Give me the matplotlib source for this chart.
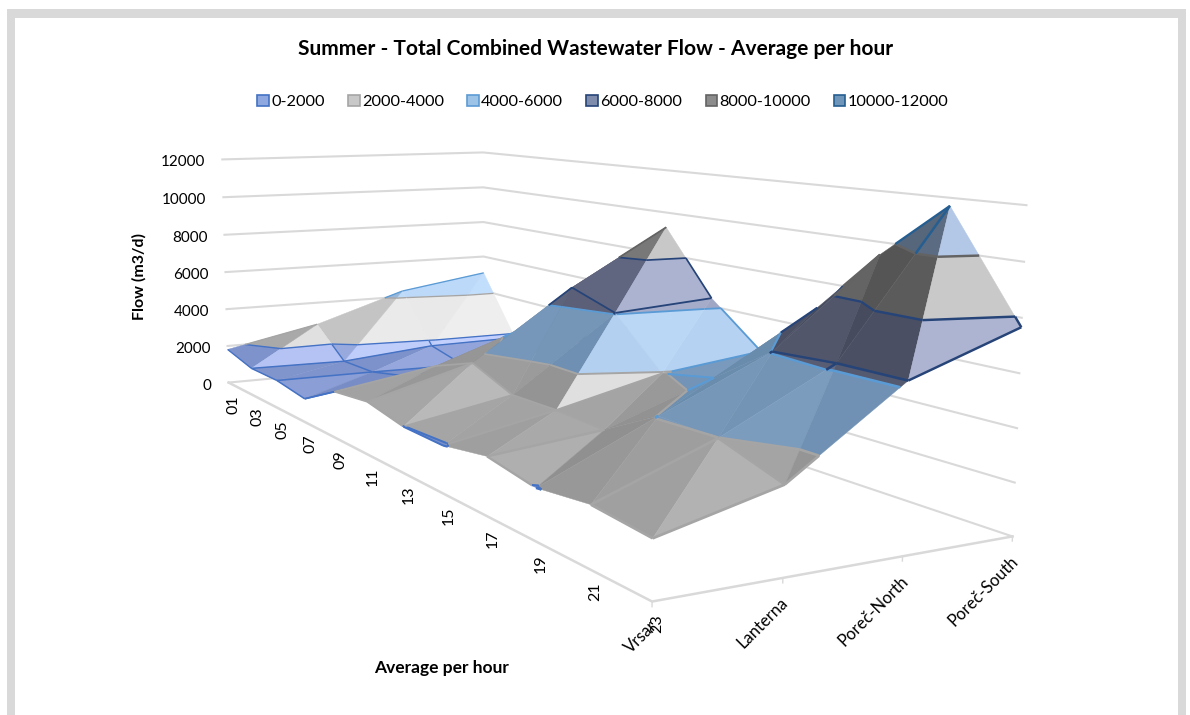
import numpy as np
import matplotlib
matplotlib.use("Agg")
import matplotlib.pyplot as plt
from matplotlib.patches import Patch, Rectangle
from mpl_toolkits.mplot3d import proj3d
from mpl_toolkits.mplot3d.art3d import Poly3DCollection, Line3DCollection

plt.rcParams['font.family'] = ['Lato', 'DejaVu Sans']

hours = ['01', '03', '05', '07', '09', '11', '13', '15', '17', '19', '21', '23']
locations = ['Vrsar', 'Lanterna', 'Poreč-North', 'Poreč-South']
vrsar = [1810, 1390, 1390, 1140, 2150, 2365, 1990, 1960, 2320, 1970, 2260, 2070]
lanterna = [2800, 1330, 1370, 1800, 2900, 3640, 2840, 2880, 2800, 4060, 3990, 3185]
porec_north = [4320, 1750, 1300, 2000, 4500, 6740, 6050, 3950, 4400, 6050, 6200, 6200]
porec_south = [5050, 1800, 1700, 2800, 6500, 9300, 6370, 4480, 6900, 9500, 11700, 7660]
z_ticks = [0, 2000, 4000, 6000, 8000, 10000, 12000]
band_names = ['0-2000', '2000-4000', '4000-6000', '6000-8000', '8000-10000', '10000-12000']
band_edges = ['#4472c4', '#a5a5a5', '#5b9bd5', '#264478', '#636363', '#255e91']
band_legend = ['#8fa8e0', '#c8c8c8', '#9dc3e6', '#7f8cab', '#8c8c8c', '#6f96b8']
band_base = ['#7f93cc', '#acacac', '#82a2c4', '#6d7390', '#8a8a8a', '#7f95b0']
band_light = ['#c5d2ff', '#f0f0f0', '#c4e0ff', '#aeb6d4', '#cbcbcb', '#b5c9e8']
band_dark = ['#6a80b8', '#878787', '#6587a8', '#454a5c', '#545454', '#55657a']

W, H = 1190, 715
fig = plt.figure(figsize=(W / 100, H / 100), dpi=100)
ax = fig.add_axes([20.1 / W, -120.8 / H, 1018.9 / W, 1018.9 / H], projection='3d', computed_zorder=False)
ax.set_xlim(0, 11)
ax.set_ylim(0, 3)
ax.set_zlim(0, 12000)
ax.view_init(8.347, -28.761)
ax.set_proj_type('persp', focal_length=0.3016)
ax.set_box_aspect((3.5381, 1.2852, 1))
ax.set_axis_off()
ax.patch.set_alpha(0)

grid_color = '#d9d9d9'
for z in z_ticks:
    ax.plot([0, 0, 11], [0, 3, 3], [z, z, z], color=grid_color, lw=1.5, zorder=1)
ax.plot([0, 11, 11], [0, 0, 3], [0, 0, 0], color=grid_color, lw=1.8, zorder=1)
for j in range(4):
    ax.plot([11, 11], [j, j], [0, -170], color=grid_color, lw=1, zorder=1)

values = np.array([vrsar, lanterna, porec_north, porec_south], float).T
levels = np.array(z_ticks, float)

def rgb(c):
    return np.array(matplotlib.colors.to_rgb(c))

def shade(b, u):
    t = np.tanh(u / 1500.0) if u > 0 else np.tanh(u / 2500.0)
    end = band_light[b] if t > 0 else band_dark[b]
    return tuple(rgb(band_base[b]) * (1 - abs(t)) + rgb(end) * abs(t))

def clip_band(poly, lo, hi):
    for lim, sign in ((lo, 1), (hi, -1)):
        out = []
        for a, b in zip(poly, poly[1:] + poly[:1]):
            da, db = sign * (a[2] - lim), sign * (b[2] - lim)
            if da >= 0:
                out.append(a)
            if da * db < 0:
                f = da / (da - db)
                out.append(tuple(a[k] + f * (b[k] - a[k]) for k in range(3)))
        poly = out
        if not poly:
            break
    return poly

def split_edge(a, b):
    segs = []
    for n in range(6):
        poly = clip_band([a, b], levels[n], levels[n + 1])
        if len(poly) >= 2:
            segs.append((n, [poly[0], poly[-1]]))
    return segs

def pt(i, j):
    return (float(i), float(j), values[i, j])

# far cells first, the near corner is hour 23 at Vrsar
zo = 2
for j in (2, 1, 0):
    for i in range(11):
        a, b, c, d = pt(i, j), pt(i + 1, j), pt(i + 1, j + 1), pt(i, j + 1)
        polys, cols, segs, seg_cols = [], [], [], []
        for tri, dzdx, dzdy in (([a, b, d], b[2] - a[2], d[2] - a[2]), ([b, c, d], c[2] - d[2], c[2] - b[2])):
            u = -dzdx - 0.6 * dzdy
            for n in range(6):
                poly = clip_band(list(tri), levels[n], levels[n + 1])
                if len(poly) >= 3:
                    polys.append(poly)
                    cols.append(shade(n, u))
            # band boundaries crossing this triangle
            for n in range(1, 6):
                lev = levels[n]
                hits = []
                for p1, p2 in zip(tri, tri[1:] + tri[:1]):
                    if (p1[2] - lev) * (p2[2] - lev) < 0:
                        f = (lev - p1[2]) / (p2[2] - p1[2])
                        hits.append(tuple(p1[k] + f * (p2[k] - p1[k]) for k in range(3)))
                if len(hits) == 2:
                    segs.append(hits)
                    seg_cols.append(band_edges[n - 1])
        edges = [(c, d), (d, a)]
        if j == 0:
            edges.append((a, b))
        if i == 10:
            edges.append((b, c))
        for e1, e2 in edges:
            for n, sg in split_edge(e1, e2):
                segs.append(sg)
                seg_cols.append(band_edges[n])
        # lines get thicker towards the viewer
        lw = 1.0 / (1 - 0.036 * i + 0.022 * j) ** 1.5
        ax.add_collection3d(Poly3DCollection(polys, facecolors=cols, edgecolors=cols, linewidths=0.3, zorder=zo), autolim=False)
        zo += 1
        ax.add_collection3d(Line3DCollection(segs, colors=seg_cols, linewidths=lw, zorder=zo), autolim=False)
        zo += 1

def label(x, y, z, text, dx, dy, **kw):
    px, py, _ = proj3d.proj_transform(x, y, z, ax.get_proj())
    ax.annotate(text, xy=(px, py), xycoords='data', xytext=(dx, dy), textcoords='offset pixels',
                zorder=500, annotation_clip=False, **kw)

for z in z_ticks:
    label(0, 0, z, str(z), -17, -3, ha='right', va='center', fontsize=11)
for i, lab in enumerate(hours):
    label(i, 0, 0, lab, 5, -22, rotation=90, ha='center', va='center', fontsize=11.5)
for j, lab in enumerate(locations):
    label(11, j, 0, lab, 3, -22, rotation=45, rotation_mode='anchor', ha='right', va='center', fontsize=12)

fig.text(596 / W, 1 - 49 / H, 'Summer - Total Combined Wastewater Flow - Average per hour', ha='center', va='center', fontsize=15.05, fontweight='bold')
fig.text(139 / W, 1 - 277 / H, 'Flow (m3/d)', rotation=90, ha='center', va='center', fontsize=11.5, fontweight='bold')
fig.text(442 / W, 1 - 668 / H, 'Average per hour', ha='center', va='center', fontsize=12.5, fontweight='bold')

handles = [Patch(facecolor=f, edgecolor=e, linewidth=1.2, label=n) for f, e, n in zip(band_legend, band_edges, band_names)]
fig.legend(handles=handles, ncol=6, loc='center', bbox_to_anchor=(603 / W, 1 - 102 / H), frameon=False, fontsize=11.8,
           handlelength=.7, handleheight=.7, handletextpad=.15, columnspacing=1.42)

# outer frame, open at the bottom of the crop
for rect in ([6.5, 0, 8, H - 9.5], [6.5, H - 17.5, 1179.5, 8], [1178, 0, 8, H - 9.5]):
    fig.add_artist(Rectangle((rect[0] / W, rect[1] / H), rect[2] / W, rect[3] / H, transform=fig.transFigure, facecolor='#d9d9d9', edgecolor='none'))

fig.savefig('out.png', dpi=100)
